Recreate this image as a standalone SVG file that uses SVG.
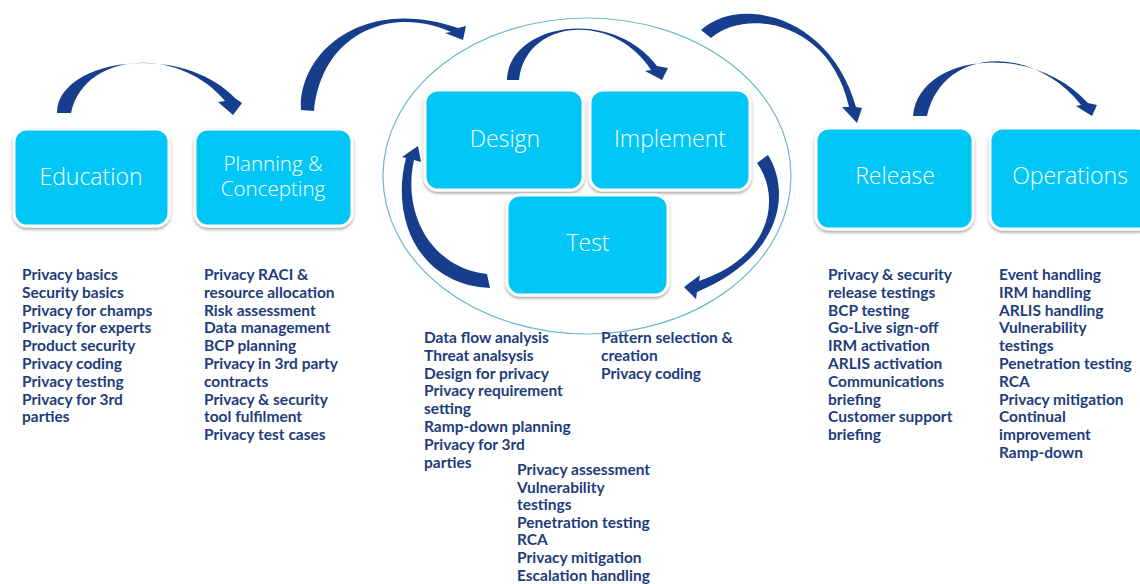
<svg xmlns="http://www.w3.org/2000/svg" width="1140" height="584" viewBox="0 0 1140 584">
<defs>
<filter id="sh" x="-10%" y="-10%" width="120%" height="130%">
<feDropShadow dx="0" dy="2" stdDeviation="1.6" flood-color="#000" flood-opacity="0.35"/>
</filter>
</defs>
<style>
.box{fill:#00c6f6;stroke:#ffffff;stroke-width:3;filter:url(#sh)}
.lbl{font-family:"Open Sans","DejaVu Sans",sans-serif;font-weight:300;font-size:23px;fill:#ffffff;text-anchor:middle}
.sm{font-size:20.5px}
.lst{font-family:Lato,"Liberation Sans",sans-serif;font-weight:700;font-size:15.5px;fill:#1e3c7b}
.arr{fill:#163e8c}
</style>
<rect width="1140" height="584" fill="#ffffff"/>
<ellipse cx="587" cy="176" rx="204" ry="158" fill="none" stroke="#6bb8cc" stroke-width="1.2"/>
<g id="connectors">
<path class="arr" d="M 57 113 C 57 60, 180 40, 236 99 L 242 103 L 233 115 L 218 102 L 225 101 C 178 45, 84 52, 71 113 Z"/>
<path class="arr" d="M 301 110 C 298 55, 360 -5, 458 28 L 466 26 L 463 40 L 445 33 L 451 32 C 395 6, 322 30, 314 111 Z"/>
<path class="arr" d="M 507 80 C 508 25, 610 5, 657 66 L 668 68 L 662 80 L 645 71 L 651 70 C 614 12, 526 18, 519 80 Z"/>
<path class="arr" d="M 768 155 C 790 190, 785 255, 697 292 L 696 299 L 684 287 L 700 275 L 699 281 C 775 255, 780 195, 757 163 Z"/>
<path class="arr" d="M 490 288 C 420 285, 390 220, 406 158 L 402 157 L 418 146 L 421 162 L 414 160 C 402 215, 432 268, 487 274 Z"/>
<path class="arr" d="M 701 30 C 740 -5, 830 15, 856 107 L 862 108 L 857 123 L 842 107 L 849 107 C 830 20, 745 8, 711 38 Z"/>
<path class="arr" d="M 913 116 C 918 55, 1030 40, 1088 103 L 1097 105 L 1092 116 L 1076 106 L 1081 105 C 1033 44, 943 46, 927 116 Z"/>
</g>
<g id="education">
<rect class="box" x="14" y="129" width="155" height="97" rx="13"/>
<text class="lbl" x="91" y="185">Education</text>
<text class="lst" x="22" y="280"><tspan x="22">Privacy basics</tspan><tspan x="22" dy="17.8">Security basics</tspan><tspan x="22" dy="17.8">Privacy for champs</tspan><tspan x="22" dy="17.8">Privacy for experts</tspan><tspan x="22" dy="17.8">Product security</tspan><tspan x="22" dy="17.8">Privacy coding</tspan><tspan x="22" dy="17.8">Privacy testing</tspan><tspan x="22" dy="17.8">Privacy for 3rd</tspan><tspan x="22" dy="17.8">parties</tspan></text>
</g>
<g id="planning">
<rect class="box" x="195" y="129" width="157" height="97" rx="13"/>
<text class="lbl sm" x="273" y="171"><tspan x="273">Planning &amp;</tspan><tspan x="273" dy="25">Concepting</tspan></text>
<text class="lst" x="204" y="280"><tspan x="204">Privacy RACI &amp;</tspan><tspan x="204" dy="17.8">resource allocation</tspan><tspan x="204" dy="17.8">Risk assessment</tspan><tspan x="204" dy="17.8">Data management</tspan><tspan x="204" dy="17.8">BCP planning</tspan><tspan x="204" dy="17.8">Privacy in 3rd party</tspan><tspan x="204" dy="17.8">contracts</tspan><tspan x="204" dy="17.8">Privacy &amp; security</tspan><tspan x="204" dy="17.8">tool fulfilment</tspan><tspan x="204" dy="17.8">Privacy test cases</tspan></text>
</g>
<g id="design">
<rect class="box" x="425" y="90" width="158" height="100" rx="13"/>
<text class="lbl" x="505" y="147">Design</text>
<text class="lst" x="424" y="343"><tspan x="424">Data flow analysis</tspan><tspan x="424" dy="17.8">Threat analsysis</tspan><tspan x="424" dy="17.8">Design for privacy</tspan><tspan x="424" dy="17.8">Privacy requirement</tspan><tspan x="424" dy="17.8">setting</tspan><tspan x="424" dy="17.8">Ramp-down planning</tspan><tspan x="424" dy="17.8">Privacy for 3rd</tspan><tspan x="424" dy="17.8">parties</tspan></text>
</g>
<g id="implement">
<rect class="box" x="590" y="90" width="160" height="100" rx="13"/>
<text class="lbl" x="670" y="147">Implement</text>
<text class="lst" x="601" y="343"><tspan x="601">Pattern selection &amp;</tspan><tspan x="601" dy="17.8">creation</tspan><tspan x="601" dy="17.8">Privacy coding</tspan></text>
</g>
<g id="test">
<rect class="box" x="507" y="195" width="161" height="100" rx="13"/>
<text class="lbl" x="588" y="251">Test</text>
<text class="lst" x="517" y="475"><tspan x="517">Privacy assessment</tspan><tspan x="517" dy="17.6">Vulnerability</tspan><tspan x="517" dy="17.6">testings</tspan><tspan x="517" dy="17.6">Penetration testing</tspan><tspan x="517" dy="17.6">RCA</tspan><tspan x="517" dy="17.6">Privacy mitigation</tspan><tspan x="517" dy="17.6">Escalation handling</tspan></text>
</g>
<g id="release">
<rect class="box" x="816" y="128" width="157" height="101" rx="13"/>
<text class="lbl" x="895" y="184">Release</text>
<text class="lst" x="828" y="280"><tspan x="828">Privacy &amp; security</tspan><tspan x="828" dy="17.8">release testings</tspan><tspan x="828" dy="17.8">BCP testing</tspan><tspan x="828" dy="17.8">Go-Live sign-off</tspan><tspan x="828" dy="17.8">IRM activation</tspan><tspan x="828" dy="17.8">ARLIS activation</tspan><tspan x="828" dy="17.8">Communications</tspan><tspan x="828" dy="17.8">briefing</tspan><tspan x="828" dy="17.8">Customer support</tspan><tspan x="828" dy="17.8">briefing</tspan></text>
</g>
<g id="operations">
<rect class="box" x="990" y="128" width="160" height="101" rx="13"/>
<text class="lbl" x="1070" y="184">Operations</text>
<text class="lst" x="999" y="280"><tspan x="999">Event handling</tspan><tspan x="999" dy="17.8">IRM handling</tspan><tspan x="999" dy="17.8">ARLIS handling</tspan><tspan x="999" dy="17.8">Vulnerability</tspan><tspan x="999" dy="17.8">testings</tspan><tspan x="999" dy="17.8">Penetration testing</tspan><tspan x="999" dy="17.8">RCA</tspan><tspan x="999" dy="17.8">Privacy mitigation</tspan><tspan x="999" dy="17.8">Continual</tspan><tspan x="999" dy="17.8">improvement</tspan><tspan x="999" dy="17.8">Ramp-down</tspan></text>
</g>
</svg>
